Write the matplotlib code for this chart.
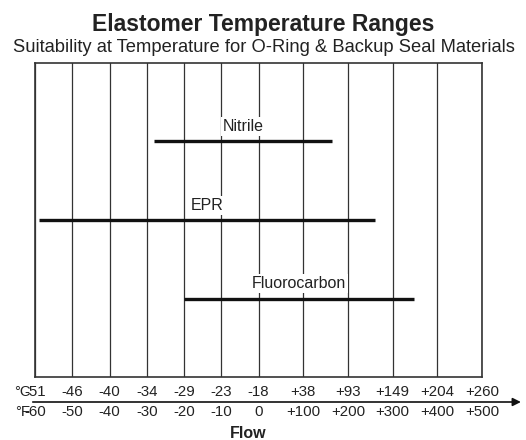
import numpy as np
import matplotlib
matplotlib.use("Agg")
import matplotlib.pyplot as plt

plt.rcParams['font.family'] = ['Liberation Sans', 'DejaVu Sans']

# Scale ticks (°F and matching °C)
f_ticks = [-60, -50, -40, -30, -20, -10, 0, 100, 200, 300, 400, 500]
f_labels = ['-60', '-50', '-40', '-30', '-20', '-10', '0', '+100', '+200', '+300', '+400', '+500']
c_labels = ['-51', '-46', '-40', '-34', '-29', '-23', '-18', '+38', '+93', '+149', '+204', '+260']

# Materials and their ranges in °F
materials = ['Nitrile', 'EPR', 'Fluorocarbon']
low_f = [-28, -59, -20]
high_f = [165, 260, 347]

# the scale is not linear: the 10° steps are narrower than the 100° steps
gaps = [0] + [1.0] * 6 + [1.2] * 5
pos = np.cumsum(gaps)

def to_pos(f):
    return np.interp(f, f_ticks, pos)

W, H = 526, 440
fig = plt.figure(figsize=(W / 100, H / 100), dpi=100)
# plot box in pixels: x 35..482, y 63..377
ax = fig.add_axes([35 / W, (H - 377) / H, (482 - 35) / W, (377 - 63) / H])

ax.set_xlim(pos[0], pos[-1])
ax.set_ylim(4, 0)

for p in pos:
    ax.axvline(p, color='#333333', lw=0.9, zorder=1)

for i, name in enumerate(materials):
    row = i + 1
    x0, x1 = to_pos(low_f[i]), to_pos(high_f[i])
    ax.plot([x0, x1], [row, row], color='#111111', lw=2.4, solid_capstyle='butt', zorder=3)
    ax.text((x0 + x1) / 2, row - 0.19, name, ha='center', va='center', fontsize=11.5,
            color='#222222', zorder=2,
            bbox=dict(facecolor='white', edgecolor='none', pad=1.5))

for s in ax.spines.values():
    s.set_color('#333333')
    s.set_linewidth(1.2)
ax.set_xticks([])
ax.set_yticks([])

tick_fs = 10.8
trans = ax.get_xaxis_transform()
yc = (377 - 392) / 314
yf = (377 - 412) / 314
for i, p in enumerate(pos):
    ax.text(p, yc, c_labels[i], transform=trans, ha='center', va='center',
            fontsize=tick_fs, color='#222222', clip_on=False)
    ax.text(p, yf, f_labels[i], transform=trans, ha='center', va='center',
            fontsize=tick_fs, color='#222222', clip_on=False)
ax.text(pos[0] - 0.12, yc, '°C', transform=trans, ha='right', va='center',
        fontsize=tick_fs, color='#222222', clip_on=False)
ax.text(pos[0] - 0.12, yf, '°F', transform=trans, ha='right', va='center',
        fontsize=tick_fs, color='#222222', clip_on=False)

ya = (377 - 402) / 314
ax.annotate('', xy=(1.087, ya), xytext=(-0.005, ya), xycoords='axes fraction',
            arrowprops=dict(arrowstyle='-|>', lw=1.2, color='#111111', mutation_scale=12,
                            shrinkA=0, shrinkB=0))

ax.text(0.477, (377 - 433) / 314, 'Flow', transform=ax.transAxes, ha='center', va='center',
        fontsize=11.5, fontweight='bold', color='#222222')

fig.text(263.5 / W, 1 - 30.5 / H, 'Elastomer Temperature Ranges', ha='center', va='baseline',
         fontsize=16.5, fontweight='bold', color='#222222')
fig.text(264 / W, 1 - 52 / H, 'Suitability at Temperature for O-Ring & Backup Seal Materials',
         ha='center', va='baseline', fontsize=13.2, color='#222222')

fig.savefig('out.png', dpi=100)
